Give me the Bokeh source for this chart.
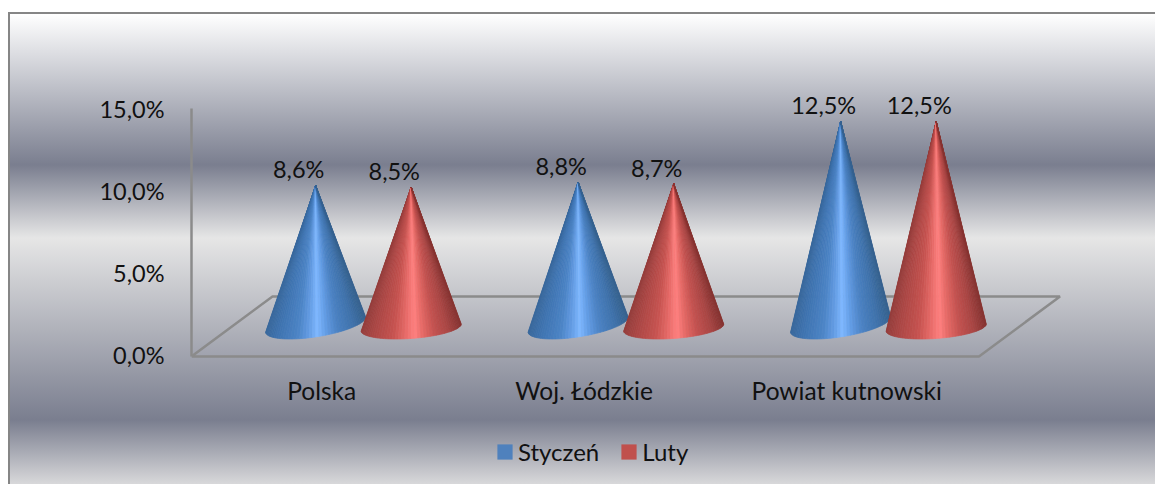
import numpy as np
from bokeh.plotting import figure
from bokeh.models import Range1d, LinearAxis, FixedTicker, Legend, LegendItem, ColumnDataSource
from bokeh.core.properties import value
from bokeh.embed import file_html
from bokeh.resources import INLINE

categories = ["Polska", "Woj. Łódzkie", "Powiat kutnowski"]
series_names = ["Styczeń", "Luty"]
styczen = [8.6, 8.8, 12.5]
luty = [8.5, 8.7, 12.5]
y_ticks = [0, 5, 10, 15]
y_tick_labels = ["0,0%", "5,0%", "10,0%", "15,0%"]

FONT = "Lato"
FS = "23.5px"
FS_CAT = "24.5px"
FS_LEG = "24px"
GRID = "#8b8b8b"
TEXT = "#111111"

W, H = 1147, 476
PX_PER_CAT = 262.5
PX_PER_PCT = 16.4
LEFT, BOTTOM = 183, 128
x_end = (W - LEFT) / PX_PER_CAT
y_start = -BOTTOM / PX_PER_PCT
y_end = (H - BOTTOM) / PX_PER_PCT

bg = ("linear-gradient(#fff 0 4px, #868686 4px 6px, transparent 6px),"
      "linear-gradient(to right, #868686 0 2.5px, transparent 2.5px),"
      "linear-gradient(#ffffff 6px, #7a7e8f 157px, #e6e6e6 230px, #7a7e8f 412px, #d8d8da 476px)")

p = figure(width=W, height=H, output_backend="svg", toolbar_location=None,
           x_range=Range1d(0, x_end), y_range=Range1d(y_start, y_end),
           min_border_left=LEFT, min_border_right=0, min_border_top=0, min_border_bottom=0,
           x_axis_type=None, y_axis_type=None,
           background_fill_alpha=0, border_fill_alpha=0, outline_line_color=None)
p.styles = {"background": bg, "position": "fixed", "left": "8px", "top": "8px"}
p.grid.visible = False

# tick positions nudged 0.1 up: the font's middle sits a little low against the reference
tick_pos = [t + 0.1 for t in y_ticks]
yax = LinearAxis(ticker=FixedTicker(ticks=tick_pos), bounds=(0, tick_pos[-1]),
                 major_label_overrides=dict(zip(tick_pos, y_tick_labels)),
                 axis_line_color=GRID, axis_line_width=2.5,
                 major_tick_line_color=None, minor_tick_line_color=None,
                 major_label_text_font=FONT, major_label_text_font_size=FS,
                 major_label_text_color=TEXT, major_label_standoff=21)
p.add_layout(yax, "left")

# box floor, front edge first
depth_x = 81 / PX_PER_CAT
depth_y = 60 / PX_PER_PCT
n = len(categories)
p.line([0, n, n + depth_x, depth_x, 0], [0, 0, depth_y, depth_y, 0], line_color=GRID, line_width=2.5)

# category labels under the front edge
p.text([i + 0.5 for i in range(n)], [0] * n, text=categories, text_font=value(FONT),
       text_font_size=value(FS_CAT), text_color=TEXT, text_align="center",
       text_baseline="middle", x_offset=-1, y_offset=34)

BLUE = [(0, "#39689c"), (.12, "#3f74b0"), (.32, "#4c84c6"), (.44, "#659ee6"), (.52, "#7fb8ff"),
        (.60, "#659fe8"), (.72, "#4c83c4"), (.88, "#3f72ab"), (1, "#36628f")]
RED = [(0, "#953d3b"), (.12, "#ab4745"), (.32, "#c75350"), (.44, "#e66a67"), (.54, "#ff8080"),
       (.62, "#e66a67"), (.74, "#c45250"), (.88, "#a94644"), (1, "#863331")]
APEX_BASE = 1.83
SHIFT = 0.155
OFFSET = 0.182


def ramp(stops, f):
    pos = [s[0] for s in stops]
    rgb = [[int(s[1][k:k + 2], 16) for k in (1, 3, 5)] for s in stops]
    return "#%02x%02x%02x" % tuple(int(round(np.interp(f, pos, [c[i] for c in rgb]))) for i in range(3))


def cone_strips(vals, offset, base_y, tilt, minor, stops):
    xs, ys, cols = [], [], []
    half = 50 / PX_PER_CAT
    for i, v in enumerate(vals):
        cx = i + 0.5 + SHIFT + offset
        th = np.linspace(np.pi, 0, 49)
        bx = cx + half * np.cos(th)
        by = base_y + tilt * np.cos(th) - minor * np.sin(th)
        for k in range(len(th) - 1):
            f = (0.5 * (bx[k] + bx[k + 1]) - (cx - half)) / (2 * half)
            xs.append([cx, bx[k], bx[k + 1]])
            ys.append([APEX_BASE + v, by[k], by[k + 1]])
            cols.append(ramp(stops, f))
    return ColumnDataSource(dict(xs=xs, ys=ys, c=cols))


src_b = cone_strips(styczen, -OFFSET, 1.95, 7.5 / PX_PER_PCT, 12.4 / PX_PER_PCT, BLUE)
src_r = cone_strips(luty, OFFSET, 1.77, 3.5 / PX_PER_PCT, 11.0 / PX_PER_PCT, RED)
p.patches("xs", "ys", source=src_b, fill_color="c", line_color="c", line_width=0.7)
p.patches("xs", "ys", source=src_r, fill_color="c", line_color="c", line_width=0.7)


def fmt(v):
    return f"{v:.1f}%".replace(".", ",")


for vals, off in ((styczen, -OFFSET), (luty, OFFSET)):
    p.text([i + 0.5 + SHIFT + off for i in range(n)], [APEX_BASE + v for v in vals],
           text=[fmt(v) for v in vals], text_font=value(FONT), text_font_size=value(FS),
           text_color=TEXT, text_align="center", text_baseline="middle", x_offset=-17, y_offset=-16)

# legend swatches come from two zero-width bars that draw nothing in the plot
r1 = p.vbar(x=[0], top=[0], width=0, fill_color="#4f81bd", line_color=None)
r2 = p.vbar(x=[0], top=[0], width=0, fill_color="#c0504d", line_color=None)
legend = Legend(items=[LegendItem(label=value(series_names[0]), renderers=[r1]),
                       LegendItem(label=value(series_names[1]), renderers=[r2])],
                orientation="horizontal", location=(304, 18), background_fill_alpha=0,
                border_line_color=None, glyph_width=19, glyph_height=19,
                label_text_font=FONT, label_text_font_size=FS_LEG, label_text_color=TEXT,
                label_standoff=4, spacing=20, padding=0, margin=0)
p.add_layout(legend, "center")

open("out.html", "w").write(file_html(p, INLINE))
